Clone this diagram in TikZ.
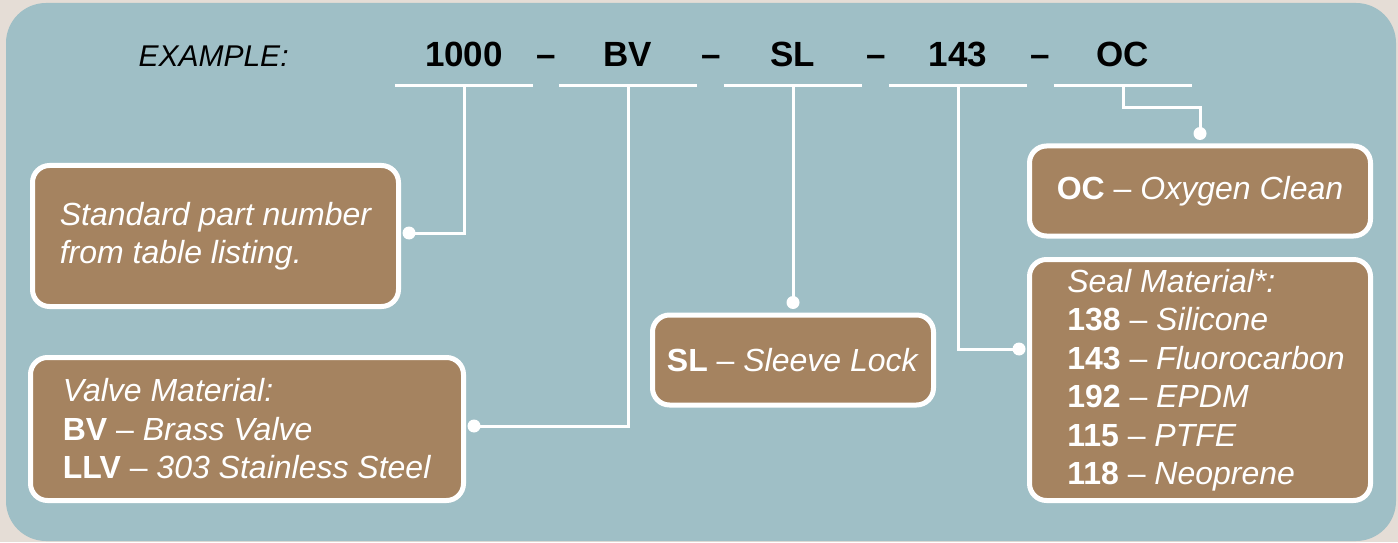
\documentclass[tikz,border=0pt]{standalone}
\usepackage{fontspec}
\setmainfont{Liberation Sans}
\usepackage{tikz}

\definecolor{beige}{RGB}{229,221,214}
\definecolor{panelblue}{RGB}{159,191,198}
\definecolor{boxbrown}{RGB}{165,131,96}
\newcommand{\sealind}{\hspace*{12pt}}

\tikzset{
  codebox/.style={font=\bfseries\fontsize{35}{42}\selectfont, minimum width=138pt, inner xsep=0pt, inner ysep=18pt, text depth=0pt, anchor=base},
  infobox/.style={draw=white, line width=5pt, fill=boxbrown, rounded corners=17pt, text=white, align=left, inner sep=0pt, font=\fontsize{32}{38.5}\selectfont},
  wire/.style={draw=white, line width=3pt},
  dot/.style={circle, fill=white, minimum size=13pt, inner sep=0pt}
}

\begin{document}
\begin{tikzpicture}[x=1pt,y=1pt]
  % backdrop
  \fill[beige] (0,0) rectangle (1398,542);
  \fill[panelblue, rounded corners=40pt] (6,1) rectangle (1396,539);
  % part number
  \node[anchor=base west, font=\itshape\fontsize{30}{36}\selectfont] (ex) at (135,475) {EXAMPLE:};
  \foreach \x/\t [count=\i] in {464/1000,628/BV,793/SL,958/143,1123/OC} {\node[codebox] (c\i) at (\x,475) {\t};}
  \foreach \x [count=\i] in {546,711,876,1040} {\node[anchor=base, font=\bfseries\fontsize{35}{42}\selectfont] (d\i) at (\x,475) {--};}
  \foreach \i in {1,...,5} {\draw[wire] (c\i.south west) -- (c\i.south east);}
  % boxes
  \node[infobox, minimum width=366pt, minimum height=141pt] (b1) at (215.5,306)
    {\itshape Standard part number\\\itshape from table listing.};
  \node[infobox, minimum width=433pt, minimum height=143pt] (b2) at (247,113)
    {\itshape Valve Material:\\\textbf{BV} -- \textit{Brass Valve}\\\textbf{LLV} -- \textit{303 Stainless Steel}};
  \node[infobox, minimum width=281pt, minimum height=90pt] (b3) at (793,182)
    {\textbf{SL} -- \textit{Sleeve Lock}};
  \node[infobox, minimum width=341pt, minimum height=90pt] (b4) at (1200,351)
    {\textbf{OC} -- \textit{Oxygen Clean}};
  \node[infobox, minimum width=341pt, minimum height=241pt] (b5) at (1200,162)
    {\sealind\textit{Seal Material*:}\\\sealind\textbf{138} -- \textit{Silicone}\\\sealind\textbf{143} -- \textit{Fluorocarbon}\\\sealind\textbf{192} -- \textit{EPDM}\\\sealind\textbf{115} -- \textit{PTFE}\\\sealind\textbf{118} -- \textit{Neoprene}};
  % connectors
  \draw[wire] (c1.south) |- ([xshift=8pt,yshift=3pt]b1.east) node[dot] {};
  \draw[wire] (c2.south) |- ([xshift=8pt,yshift=3pt]b2.east) node[dot] {};
  \draw[wire] (c3.south) -- ([yshift=10pt]b3.north) node[dot] {};
  \draw[wire] (c4.south) |- ([xshift=-8pt,yshift=31pt]b5.west) node[dot] {};
  \draw[wire] (c5.south) -- ++(0,-22) -| ([yshift=10pt]b4.north) node[dot] {};
\end{tikzpicture}
\end{document}
